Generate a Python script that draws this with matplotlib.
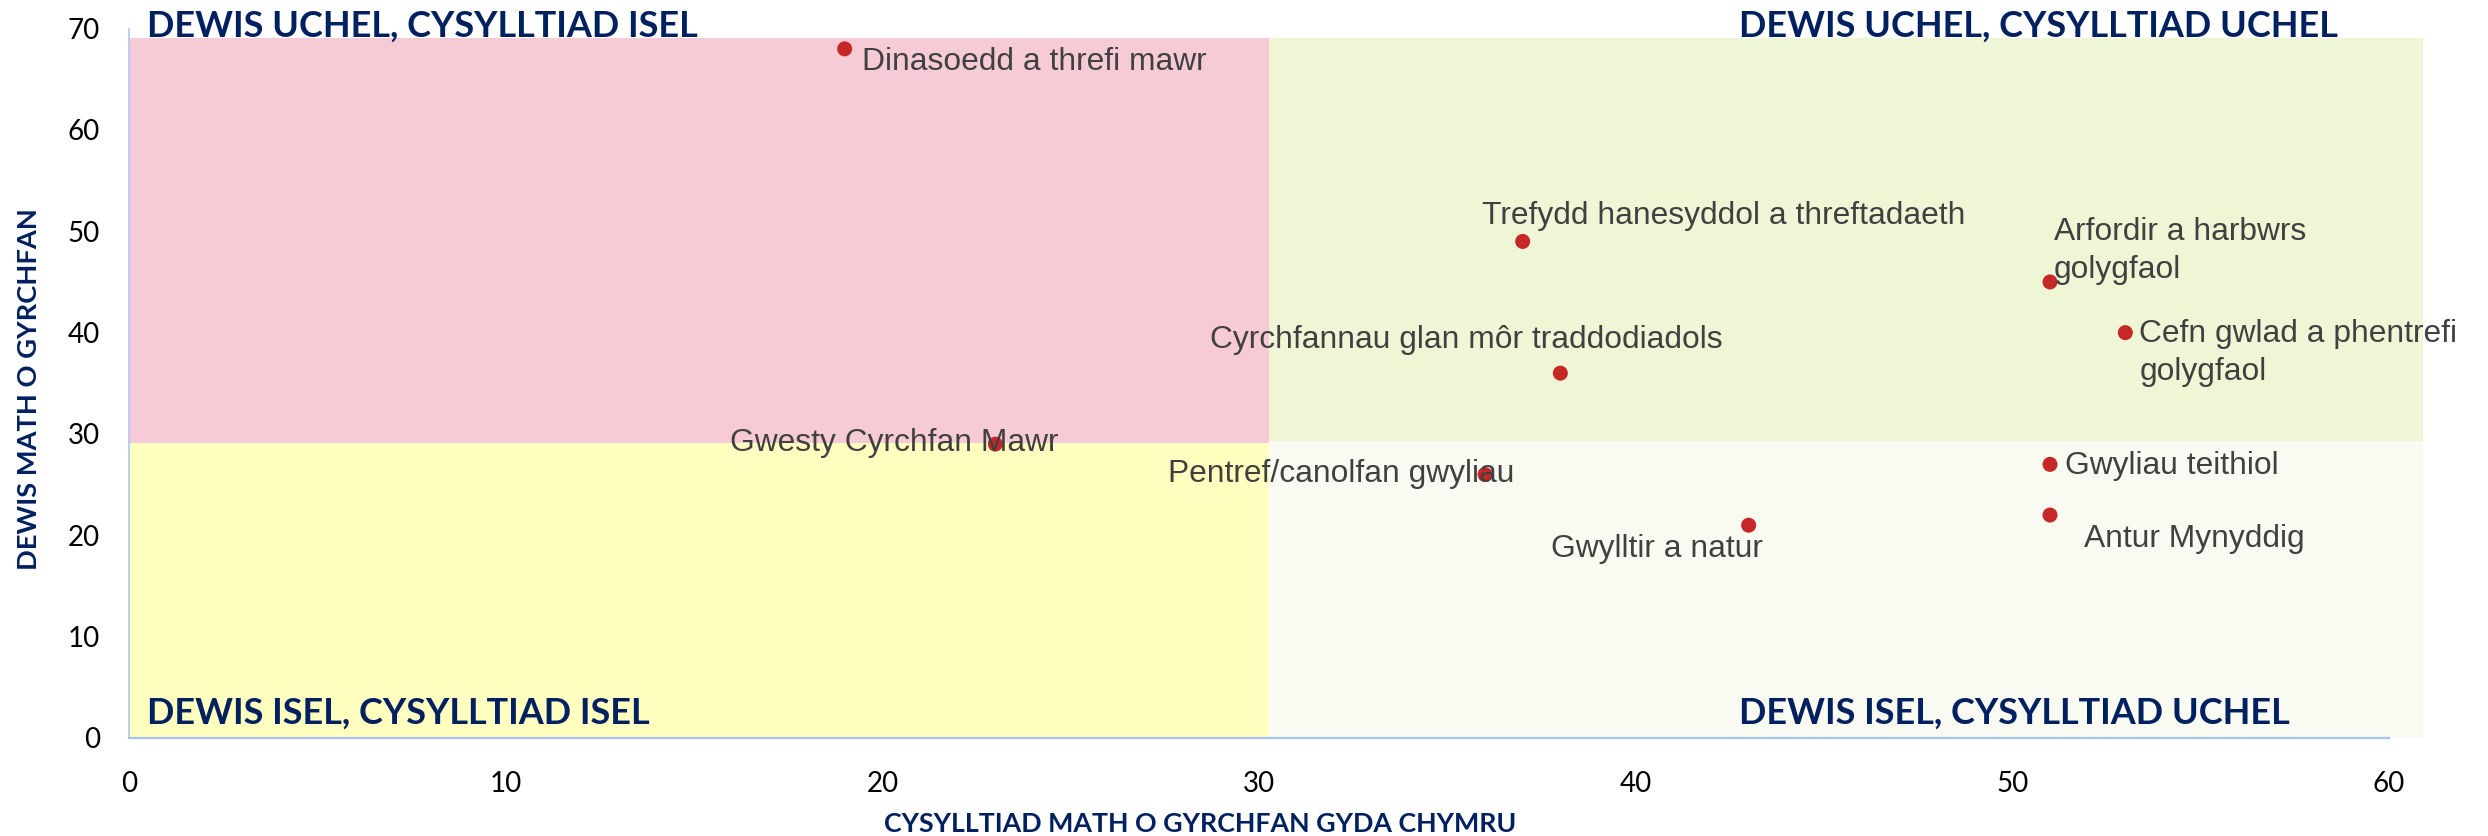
import matplotlib
matplotlib.use("Agg")
import matplotlib.pyplot as plt
from matplotlib.patches import Rectangle

# Destination types: connection with Wales (x) against choice of destination (y)
destinations = [
    "Dinasoedd a threfi mawr",
    "Gwesty Cyrchfan Mawr",
    "Pentref/canolfan gwyliau",
    "Trefydd hanesyddol a threftadaeth",
    "Cyrchfannau glan môr traddodiadols",
    "Gwylltir a natur",
    "Arfordir a harbwrs\ngolygfaol",
    "Cefn gwlad a phentrefi\ngolygfaol",
    "Gwyliau teithiol",
    "Antur Mynyddig",
]
connection = [19, 23, 36, 37, 38, 43, 51, 53, 51, 51]
choice = [68, 29, 26, 49, 36, 21, 45, 40, 27, 22]

x_ticks = [0, 10, 20, 30, 40, 50, 60]
y_ticks = [0, 10, 20, 30, 40, 50, 60, 70]

x_title = "CYSYLLTIAD MATH O GYRCHFAN GYDA CHYMRU"
y_title = "DEWIS MATH O GYRCHFAN"
quadrant_titles = [
    "DEWIS UCHEL, CYSYLLTIAD ISEL",
    "DEWIS UCHEL, CYSYLLTIAD UCHEL",
    "DEWIS ISEL, CYSYLLTIAD ISEL",
    "DEWIS ISEL, CYSYLLTIAD UCHEL",
]

# label placement: offset of the label's top-left corner from its point, in pixels
label_offsets_px = [
    (17, 2), (-265, 16), (-317, 16), (-41, 40), (-350, 48),
    (-198, -9), (4, 65), (14, 14), (15, 13), (34, -9),
]

NAVY = "#002060"
AXIS_BLUE = "#A4C2F4"
DPI = 100
PX = 72.0 / DPI  # points per pixel

fig = plt.figure(figsize=(24.88, 8.36), dpi=DPI)
fig.patch.set_facecolor("white")
ax = fig.add_axes([129 / 2488, 98 / 836, 2260 / 2488, 709.4 / 836])
ax.set_xlim(0, 60)
ax.set_ylim(0, 70)

# quadrant background panels
split_x = 30.26
panels = [
    (0, 29.1, split_x, 69.1 - 29.1, "#F7CBD5"),
    (split_x, 29.35, 60.9 - split_x, 69.1 - 29.35, "#EFF6D5"),
    (0, 0, split_x, 29.1, "#FFFFBF"),
    (split_x, 0, 60.9 - split_x, 29.35, "#F9FAF1"),
]
for x0, y0, w, h, c in panels:
    ax.add_patch(Rectangle((x0, y0), w, h, facecolor=c, edgecolor="none",
                           zorder=0.5, clip_on=False))

# quadrant titles
qfont = dict(family="Lato", weight="bold", color=NAVY, fontsize=25, zorder=4)
quad_texts = [
    ax.text(0.49, 69.17, quadrant_titles[0], ha="left", va="baseline", **qfont),
    ax.text(42.74, 69.17, quadrant_titles[1], ha="left", va="baseline", **qfont),
    ax.text(0.49, 1.38, quadrant_titles[2], ha="left", va="baseline", **qfont),
    ax.text(42.74, 1.38, quadrant_titles[3], ha="left", va="baseline", **qfont),
]

# points
ax.scatter(connection, choice, s=117, color="#C62828", edgecolors="none", zorder=3)

# point labels
for name, x, y, (dx, dy) in zip(destinations, connection, choice, label_offsets_px):
    ax.annotate(name, (x, y), xytext=(dx * PX, dy * PX), textcoords="offset points",
                ha="left", va="top", fontsize=22.9, family="Liberation Sans",
                color="#404040", linespacing=1.35, zorder=5, annotation_clip=False)

# axes styling
for side in ("top", "right"):
    ax.spines[side].set_visible(False)
ax.spines["left"].set_color(AXIS_BLUE)
ax.spines["left"].set_linewidth(1.5 * PX)
ax.spines["bottom"].set_color(AXIS_BLUE)
ax.spines["bottom"].set_linewidth(2.2 * PX)
ax.spines["left"].set_zorder(2.5)
ax.spines["bottom"].set_zorder(2.5)
ax.set_facecolor("none")

ax.set_xticks(x_ticks)
ax.set_yticks(y_ticks)
ax.tick_params(axis="both", length=0, labelsize=20, labelcolor="black")
ax.tick_params(axis="x", pad=24)
ax.tick_params(axis="y", pad=21)
for lbl in ax.get_xticklabels() + ax.get_yticklabels():
    lbl.set_family("Lato")

xt = fig.text(1200.5 / 2488, 1 - 831.7 / 836, x_title, ha="center", va="baseline",
              family="Lato", weight="bold", fontsize=18.4, color=NAVY)
yt = fig.text(29 / 2488, 1 - 389 / 836, y_title, ha="center", va="center", rotation=90,
              rotation_mode="anchor", family="Lato", weight="bold", fontsize=22, color=NAVY)


def fit_length(artist, length_px, vertical=False):
    """Scale a text's font size so its rendered length equals length_px."""
    renderer = fig.canvas.get_renderer()
    bb = artist.get_window_extent(renderer)
    current = bb.height if vertical else bb.width
    artist.set_fontsize(artist.get_fontsize() * length_px / current)


fig.canvas.draw()
fit_length(quad_texts[0], 552)
for t in quad_texts[1:]:
    t.set_fontsize(quad_texts[0].get_fontsize())
fit_length(xt, 631)
fit_length(yt, 362, vertical=True)

fig.savefig("out.png", dpi=DPI)
